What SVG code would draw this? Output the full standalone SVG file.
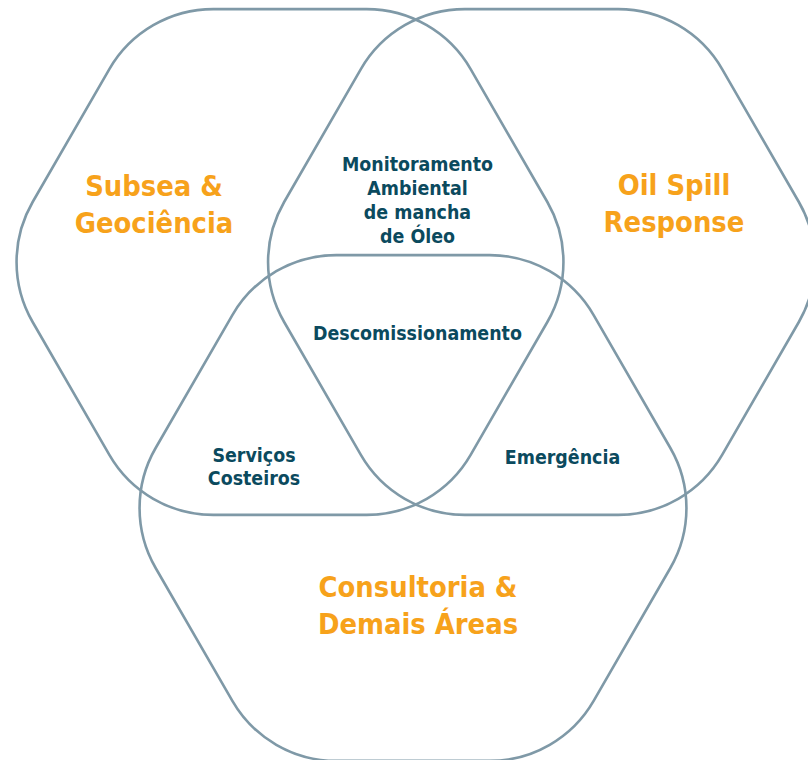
<svg xmlns="http://www.w3.org/2000/svg" xmlns:xlink="http://www.w3.org/1999/xlink" width="808" height="760" viewBox="0 0 808 760">
  <style>
    .hex { fill: none; stroke: #7F99A7; stroke-width: 2.6; }
    .title { font-family: "DejaVu Sans Condensed", "DejaVu Sans", sans-serif; font-stretch: condensed; font-weight: bold; font-size: 28.8px; fill: #F7A21B; text-anchor: middle; }
    .label { font-family: "DejaVu Sans Condensed", "DejaVu Sans", sans-serif; font-stretch: condensed; font-weight: bold; font-size: 19.4px; fill: #0B4A5E; text-anchor: middle; }
  </style>
  <defs>
    <path id="hexShape" d="M -76.72,-252.87 L 76.72,-252.87 A 120 120 0 0 1 180.64,-192.87 L 257.36,-60 A 120 120 0 0 1 257.36,60 L 180.64,192.87 A 120 120 0 0 1 76.72,252.87 L -76.72,252.87 A 120 120 0 0 1 -180.64,192.87 L -257.36,60 A 120 120 0 0 1 -257.36,-60 L -180.64,-192.87 A 120 120 0 0 1 -76.72,-252.87 Z"/>
  </defs>
  <rect width="808" height="760" fill="#FFFFFF"/>
  <g id="subsea">
    <use xlink:href="#hexShape" href="#hexShape" class="hex" transform="translate(290,262)"/>
    <text class="title" x="154" y="196">Subsea &amp;</text>
    <text class="title" x="154" y="233">Geociência</text>
  </g>
  <g id="oilspill">
    <use xlink:href="#hexShape" href="#hexShape" class="hex" transform="translate(541.5,262)"/>
    <text class="title" x="674" y="195">Oil Spill</text>
    <text class="title" x="674" y="232">Response</text>
  </g>
  <g id="consultoria">
    <use xlink:href="#hexShape" href="#hexShape" class="hex" transform="translate(413,508)"/>
    <text class="title" x="418" y="597">Consultoria &amp;</text>
    <text class="title" x="418" y="634">Demais Áreas</text>
  </g>
  <g id="monitoramento">
    <text class="label" x="417.5" y="171">Monitoramento</text>
    <text class="label" x="417.5" y="195">Ambiental</text>
    <text class="label" x="417.5" y="219">de mancha</text>
    <text class="label" x="417.5" y="243">de Óleo</text>
  </g>
  <g id="descomissionamento">
    <text class="label" x="417.5" y="340">Descomissionamento</text>
  </g>
  <g id="servicos">
    <text class="label" x="254" y="462">Serviços</text>
    <text class="label" x="254" y="485">Costeiros</text>
  </g>
  <g id="emergencia">
    <text class="label" x="562.5" y="464">Emergência</text>
  </g>
  <g id="connectors"></g>
</svg>
